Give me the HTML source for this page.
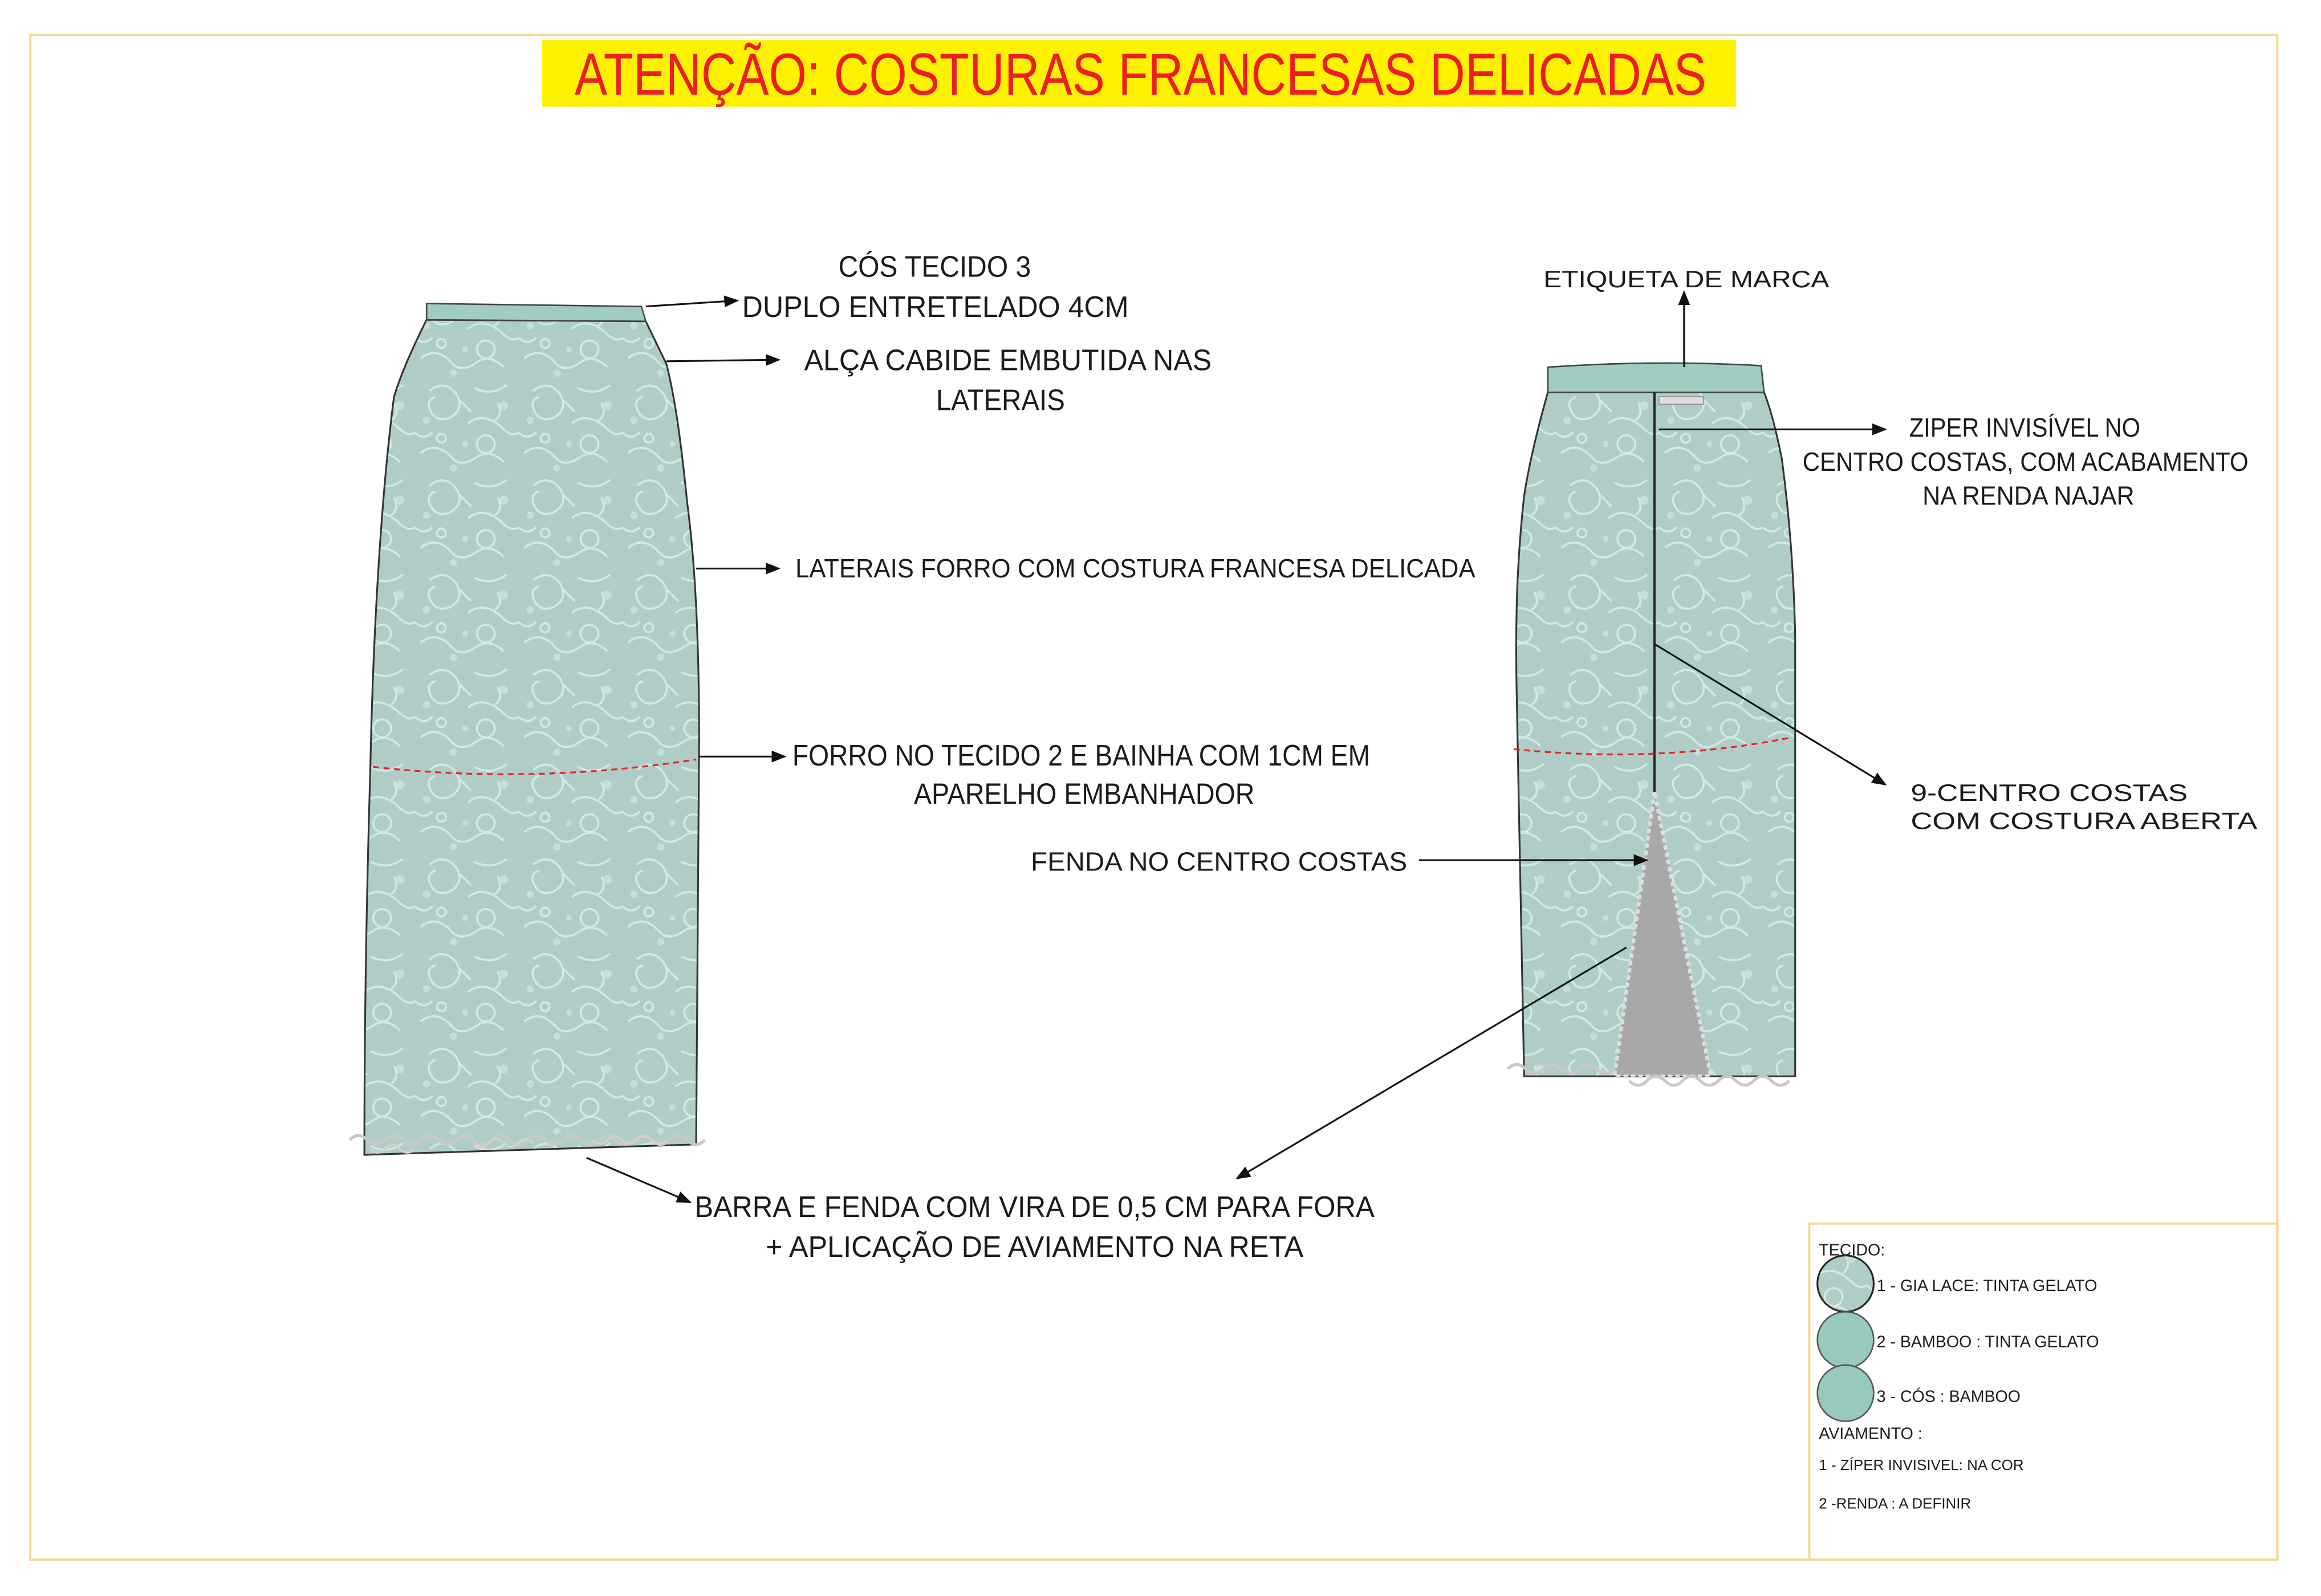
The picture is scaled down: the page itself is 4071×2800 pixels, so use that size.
<!DOCTYPE html>
<html><head><meta charset="utf-8"><style>
html,body{margin:0;padding:0;background:#fff}
svg{display:block}
text{font-family:"Liberation Sans Narrow","Liberation Sans",sans-serif;fill:#1a1a1a}
.w{font-family:"Liberation Sans",sans-serif}
</style></head><body>
<svg width="4071" height="2800" viewBox="0 0 1567 1078" preserveAspectRatio="none" xmlns="http://www.w3.org/2000/svg">
<defs>
<pattern id="lace" width="70" height="64" patternUnits="userSpaceOnUse">
<rect width="70" height="64" fill="#b0ccc7"/>
<g fill="none" stroke="#d0e9e3" stroke-width="1.4">
<path d="M10 8 Q20 0 28 10 Q34 20 24 26 Q14 30 10 20 Q8 14 14 12"/>
<path d="M40 6 Q52 12 62 4 M36 30 Q46 22 58 32 Q66 40 70 36 M0 36 Q6 42 12 36"/>
<path d="M4 50 Q14 42 24 52 Q30 60 40 54 Q50 46 60 56"/>
<circle cx="48" cy="44" r="6"/><circle cx="18" cy="40" r="3"/>
<path d="M30 14 L38 22 M56 16 Q60 24 54 28"/>
</g>
<g fill="#c9e3dd" opacity=".8"><circle cx="60" cy="18" r="3"/><circle cx="8" cy="28" r="2.5"/><circle cx="34" cy="44" r="2"/><circle cx="26" cy="60" r="2.5"/></g>
</pattern>
<marker id="ah" markerWidth="10" markerHeight="10" refX="9" refY="5" orient="auto" markerUnits="userSpaceOnUse">
<path d="M0,1 L10,5 L0,9 Z" fill="#111"/></marker>
</defs>
<rect width="1567" height="1078" fill="#fff"/>
<rect x="20.5" y="23.5" width="1517" height="1030" fill="none" stroke="#f5d88e" stroke-width="1.5"/>
<rect x="1221.5" y="826.5" width="316" height="227" fill="none" stroke="#f5d88e" stroke-width="1.5"/>

<rect x="366" y="27" width="806" height="45" fill="#fff200"/>
<text x="388" y="64" font-size="40" style="fill:#ee1c25" textLength="764" lengthAdjust="spacingAndGlyphs">ATENÇÃO: COSTURAS FRANCESAS DELICADAS</text>

<!-- left skirt -->
<path d="M288,216 C276,240 270,255 266,268 C258,330 252,420 250,520 C247,620 246,700 246,780 L470,773 C470,700 472,600 472,500 C472,420 468,370 464,340 C460,300 456,270 450,246 L436,217 Z" fill="url(#lace)" stroke="#333" stroke-width="1.2"/>
<path d="M288,205 L433,207 L436,217 L288,216 Z" fill="#9fcdc2" stroke="#444" stroke-width="1"/>
<path d="M252,518 Q360,530 470,513" fill="none" stroke="#e8202a" stroke-width="1.2" stroke-dasharray="4,3"/>
<path d="M236,770 q6,-6 12,0 q6,6 12,0 q6,-6 12,0 q6,6 12,0 q6,-6 12,0 q6,6 12,0 q6,-6 12,0 q6,6 12,0 q6,-6 12,0 q6,6 12,0 q6,-6 12,0 q6,6 12,0 q6,-6 12,0 q6,6 12,0 q6,-6 12,0 q6,6 12,0 q6,-6 12,0 q6,6 12,0 q6,-6 12,0 q6,6 12,0" fill="none" stroke="#c8c8c8" stroke-width="2"/>
<path d="M250,776 q5,5 10,0 q5,-5 10,0 q5,5 10,0 M320,772 q5,5 10,0 q5,-5 10,0 q5,5 10,0 q5,-5 10,0 M400,770 q5,5 10,0 q5,-5 10,0 q5,5 10,0 q5,-5 10,0 q5,5 10,0" fill="none" stroke="#d0d0d0" stroke-width="1.5"/>

<!-- right skirt -->
<path d="M1045,265 C1038,290 1032,315 1029,335 C1024,380 1023,420 1024,470 L1029,727 L1212,727 L1212,430 C1211,380 1207,340 1203,310 C1199,290 1195,275 1191,265 Z" fill="url(#lace)" stroke="#333" stroke-width="1.2"/>
<path d="M1045,248 Q1117,243 1189,247 L1191,265 L1045,265 Z" fill="#9fcdc2" stroke="#444" stroke-width="1"/>
<path d="M1117,535 L1090,727 L1155,727 Z" fill="#a8a8ab" stroke="#ddd" stroke-width="2.5" stroke-dasharray="3,2"/>
<line x1="1117" y1="265" x2="1117" y2="535" stroke="#222" stroke-width="1.5"/>
<rect x="1120" y="268" width="30" height="5" fill="#ddd" stroke="#888" stroke-width=".6"/>
<path d="M1022,506 Q1120,516 1210,498" fill="none" stroke="#e8202a" stroke-width="1.2" stroke-dasharray="4,3"/>
<path d="M1018,722 q6,-6 12,0 q6,6 12,0 q6,-6 12,0 q6,6 12,0 q6,-6 12,0 q6,6 12,0 M1100,730 q6,6 12,0 q6,-6 12,0 q6,6 12,0 q6,-6 12,0 q6,6 12,0 q6,-6 12,0 q6,6 12,0 q6,-6 12,0 q6,6 12,0" fill="none" stroke="#c8c8c8" stroke-width="2"/>

<!-- arrows -->
<g stroke="#111" stroke-width="1.2" fill="none" marker-end="url(#ah)">
<line x1="436" y1="207" x2="498" y2="203"/>
<line x1="450" y1="244" x2="526" y2="243"/>
<line x1="470" y1="384" x2="526" y2="384"/>
<line x1="472" y1="511" x2="530" y2="511"/>
<line x1="958" y1="581" x2="1112" y2="581"/>
<line x1="1098" y1="640" x2="835" y2="796"/>
<line x1="396" y1="782" x2="466" y2="812"/>
<line x1="1137" y1="248" x2="1137" y2="197"/>
<line x1="1120" y1="290" x2="1273" y2="290"/>
<line x1="1117" y1="435" x2="1273" y2="530"/>
</g>

<!-- labels -->
<g font-size="20">
<text x="566" y="187" textLength="130" lengthAdjust="spacingAndGlyphs">CÓS TECIDO 3</text>
<text x="501" y="214" textLength="261" lengthAdjust="spacingAndGlyphs">DUPLO ENTRETELADO  4CM</text>
<text x="543" y="250" textLength="275" lengthAdjust="spacingAndGlyphs">ALÇA CABIDE EMBUTIDA NAS</text>
<text x="632" y="277" textLength="87" lengthAdjust="spacingAndGlyphs">LATERAIS</text>
<text x="537" y="390" font-size="18" textLength="459" lengthAdjust="spacingAndGlyphs">LATERAIS FORRO COM COSTURA FRANCESA DELICADA</text>
<text x="535" y="517" textLength="390" lengthAdjust="spacingAndGlyphs">FORRO NO TECIDO 2 E BAINHA COM 1CM EM</text>
<text x="617" y="543" textLength="230" lengthAdjust="spacingAndGlyphs">APARELHO EMBANHADOR</text>
<text x="696" y="588" font-size="18" textLength="254" lengthAdjust="spacingAndGlyphs">FENDA NO CENTRO COSTAS</text>
<text x="469" y="822" textLength="459" lengthAdjust="spacingAndGlyphs">BARRA E FENDA COM VIRA DE 0,5 CM PARA FORA</text>
<text x="517" y="849" textLength="363" lengthAdjust="spacingAndGlyphs">+ APLICAÇÃO DE AVIAMENTO NA RETA</text>
<text x="1289" y="295" font-size="18" textLength="156" lengthAdjust="spacingAndGlyphs">ZIPER INVISÍVEL NO</text>
<text x="1217" y="318" font-size="18" textLength="301" lengthAdjust="spacingAndGlyphs">CENTRO COSTAS, COM ACABAMENTO</text>
<text x="1298" y="341" font-size="18" textLength="143" lengthAdjust="spacingAndGlyphs">NA RENDA NAJAR</text>
<text class="w" x="1042" y="194" font-size="16" textLength="193" lengthAdjust="spacingAndGlyphs">ETIQUETA DE MARCA</text>
<text class="w" x="1290" y="541" font-size="16" textLength="187" lengthAdjust="spacingAndGlyphs">9-CENTRO COSTAS</text>
<text class="w" x="1290" y="560" font-size="16" textLength="234" lengthAdjust="spacingAndGlyphs">COM COSTURA ABERTA</text>
</g>

<!-- legend -->
<g font-size="11">
<text class="w" x="1228" y="848">TECIDO:</text>
<circle cx="1246" cy="867" r="19" fill="url(#lace)" stroke="#222" stroke-width="1.2"/>
<text class="w" x="1267" y="872">1 - GIA LACE: TINTA GELATO</text>
<circle cx="1246" cy="905" r="19" fill="#97c9bf" stroke="#555" stroke-width="1"/>
<text class="w" x="1267" y="910">2 - BAMBOO : TINTA GELATO</text>
<circle cx="1246" cy="941" r="19" fill="#97c9bf" stroke="#555" stroke-width="1"/>
<text class="w" x="1267" y="947">3 - CÓS : BAMBOO</text>
<text class="w" x="1228" y="972">AVIAMENTO :</text>
<text class="w" x="1228" y="993" font-size="10">1 - ZÍPER INVISIVEL: NA COR</text>
<text class="w" x="1228" y="1019" font-size="10">2 -RENDA : A DEFINIR</text>
</g>
</svg>
</body></html>
